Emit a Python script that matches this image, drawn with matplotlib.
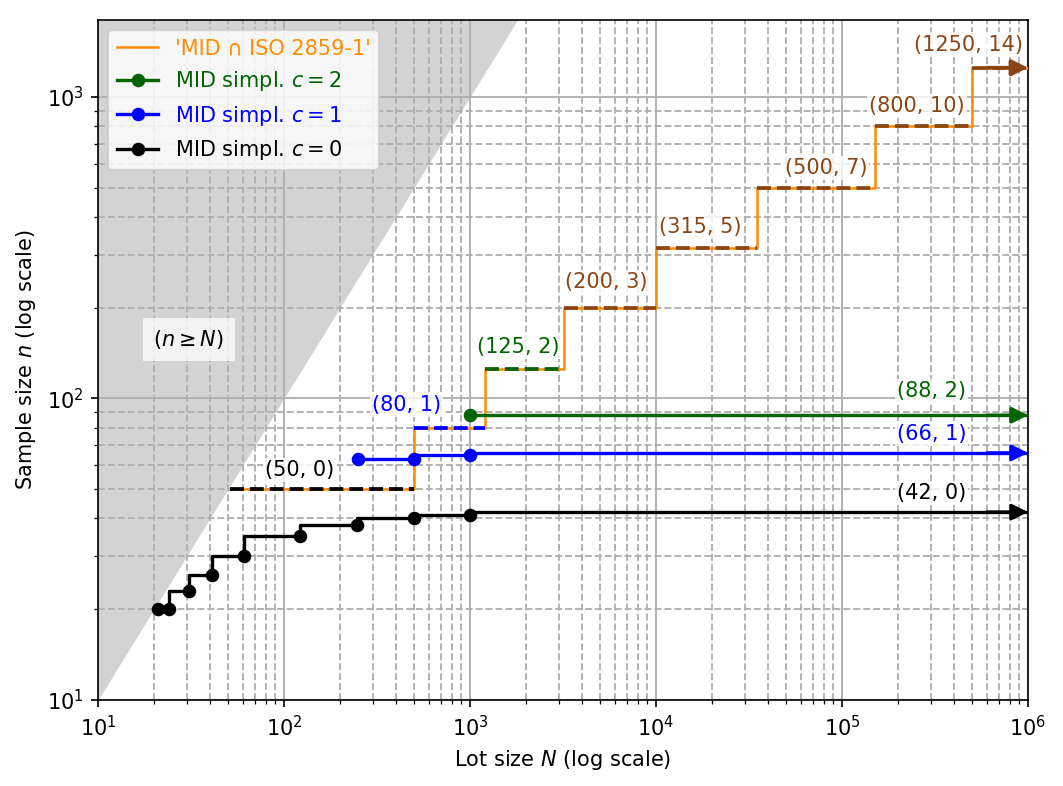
import numpy as np
from matplotlib import pyplot as plt
from matplotlib.lines import Line2D

# ISO 2859-1 intersection (lot-size class start, sample size, acceptance number)
iso_N = [51, 501, 1201, 3201, 10001, 35001, 150001, 500001]
iso_n = [50, 80, 125, 200, 315, 500, 800, 1250]
iso_c = [0, 1, 2, 3, 5, 7, 10, 14]
N_max = 1e6

# simplified MID plans
c0_N = [21, 24, 31, 41, 61, 122, 248, 500, 1000]
c0_n = [20, 20, 23, 26, 30, 35, 38, 40, 41]
c0_last = 42
c1_N = [250, 500, 1000]
c1_n = [63, 63, 65]
c1_last = 66
c2_N = [1000]
c2_n = [88]
c2_last = 88

# label positions (data coords)
iso_lab_x = [122, 455, 1811, 5430, 17260, 82000, 252000, 477000]
iso_lab_y = [57.8, 95, 148.5, 243, 370, 581, 931, 1492]
end_lab_x = 303000
end_lab_y = [48.6, 76.5, 106]

c_colors = {0: 'black', 1: 'blue', 2: 'darkgreen'}
brown = 'saddlebrown'
orange = 'darkorange'


def col(c):
    return c_colors.get(c, brown)


fig = plt.figure(figsize=(1063/150, 786/150), dpi=150)
ax = fig.add_subplot(111)
fig.subplots_adjust(left=98/1063, right=1028/1063, bottom=1-700/786, top=1-20/786)

ax.set_xscale('log')
ax.set_yscale('log')
ax.set_xlim(10, N_max)
ax.set_ylim(10, 1800)

# region n >= N
xs = np.array([10, 1800])
ax.fill_between(xs, xs, 1800, color='lightgray', lw=0)
ax.text(30.8, 157, r'$(n \geq N)$', ha='center', va='center', fontsize=10,
        bbox=dict(facecolor='white', alpha=0.75, edgecolor='none', pad=5))

ax.grid(True, which='major', color='#b0b0b0', lw=0.9)
ax.grid(True, which='minor', color='#b0b0b0', ls='--', lw=0.9)

# ISO line
ax.plot(iso_N + [N_max], iso_n + [iso_n[-1]], drawstyle='steps-post', color=orange, lw=1.2, zorder=3)
bounds = iso_N[1:] + [N_max]
for i in range(len(iso_N)):
    x1 = bounds[i] - 1 if i < len(iso_N) - 1 else N_max
    ax.plot([iso_N[i], x1], [iso_n[i], iso_n[i]], ls='--', color=col(iso_c[i]), lw=1.8, zorder=4)
    ax.text(iso_lab_x[i], iso_lab_y[i], f"({iso_n[i]}, {iso_c[i]})", color=col(iso_c[i]),
            ha='center', va='center', fontsize=10,
            bbox=dict(facecolor='white', alpha=0.8, edgecolor='none', pad=1))
ax.annotate('', xy=(N_max, iso_n[-1]), xytext=(6e5, iso_n[-1]),
            arrowprops=dict(arrowstyle='-|>', color=brown, lw=1.8, mutation_scale=16,
                            shrinkA=0, shrinkB=0), zorder=5)

# simplified plans
series = [(c0_N, c0_n, c0_last, 0), (c1_N, c1_n, c1_last, 1), (c2_N, c2_n, c2_last, 2)]
for N, n, last, c in series:
    ax.plot(N + [N_max], n + [last], drawstyle='steps-pre', color=col(c), lw=1.6,
            marker='o', ms=5.5, markevery=list(range(len(N))), zorder=5)
    ax.annotate('', xy=(N_max, last), xytext=(6e5, last),
                arrowprops=dict(arrowstyle='-|>', color=col(c), lw=1.6, mutation_scale=16,
                                shrinkA=0, shrinkB=0), zorder=5)
    ax.text(end_lab_x, end_lab_y[c], f"({last}, {c})", color=col(c), ha='center', va='center',
            fontsize=10, bbox=dict(facecolor='white', alpha=0.8, edgecolor='none', pad=1))

ax.set_xlabel('Lot size $N$ (log scale)')
ax.set_ylabel('Sample size $n$ (log scale)')

handles = [Line2D([], [], color=orange, lw=1.2),
           Line2D([], [], color=col(2), lw=1.6, marker='o', ms=5.5),
           Line2D([], [], color=col(1), lw=1.6, marker='o', ms=5.5),
           Line2D([], [], color=col(0), lw=1.6, marker='o', ms=5.5)]
labels = ["'MID \u2229 ISO 2859-1'", 'MID simpl. $c = 2$', 'MID simpl. $c = 1$', 'MID simpl. $c = 0$']
leg = ax.legend(handles, labels, loc='upper left', fontsize=10, labelcolor=[orange, col(2), col(1), col(0)])

fig.savefig('out.png', dpi=150)
